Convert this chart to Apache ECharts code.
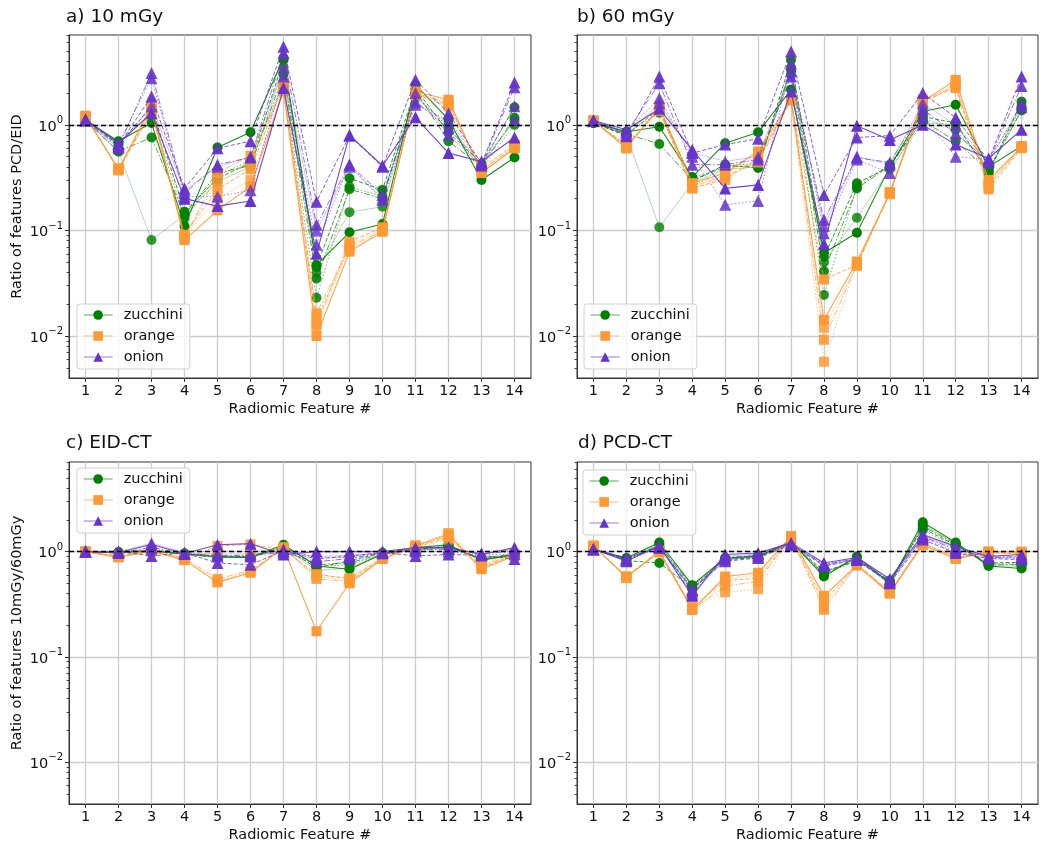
<!DOCTYPE html>
<html><head><meta charset="utf-8">
<script src="https://cdn.jsdelivr.net/npm/echarts@6/dist/echarts.min.js"></script>
<style>html,body{margin:0;padding:0;background:#fff}#c{width:1050px;height:845px}</style>
</head><body><div id="c"></div>
<script>
// ---------------- data ----------------
const features = [1,2,3,4,5,6,7,8,9,10,11,12,13,14];
const vegetables = ['zucchini','orange','onion'];
const panelTitles = ['a) 10 mGy','b) 60 mGy','c) EID-CT','d) PCD-CT'];
const yAxisNames = ['Ratio of features PCD/EID','','Ratio of features 10mGy/60mGy',''];
const xAxisName = 'Radiomic Feature #';
const yMajorTicks = [0.01, 0.1, 1];
const yMinorTicks = [0.005,0.006,0.007,0.008,0.009,0.02,0.03,0.04,0.05,0.06,0.07,0.08,0.09,0.2,0.3,0.4,0.5,0.6,0.7,0.8,0.9,2,3,4,5,6,7];
const yRange = [0.004, 7.1];
const referenceLevel = 1;

// panel a) 10 mGy  (5 curves per vegetable, features 1..14)
const A_ZUCCHINI = [
  [1.10,0.70,1.04,0.11,0.61,0.85,4.30,0.047,0.096,0.115,2.39,1.13,0.30,0.49],
  [1.12,0.65,1.50,0.15,0.31,0.44,4.10,0.045,0.312,0.242,2.20,0.85,0.43,1.47],
  [1.10,0.56,0.76,0.14,0.35,0.41,3.00,0.035,0.246,0.200,2.10,0.70,0.40,1.17],
  [1.08,0.68,1.30,0.13,0.33,0.46,2.50,0.023,0.260,0.210,1.90,0.95,0.38,1.00],
  [1.10,0.56,0.081,0.14,0.29,0.40,3.50,0.040,0.149,0.168,1.80,1.00,0.42,1.10]
];
const A_ORANGE = [
  [1.22,0.38,1.51,0.081,0.155,0.26,2.07,0.010,0.063,0.097,2.07,1.73,0.35,0.60],
  [1.20,0.37,1.34,0.091,0.245,0.38,2.40,0.013,0.078,0.107,1.93,1.55,0.39,0.65],
  [1.18,0.38,1.40,0.085,0.350,0.51,2.20,0.0164,0.070,0.100,2.00,1.60,0.37,0.62],
  [1.20,0.39,1.45,0.088,0.300,0.45,2.30,0.015,0.065,0.100,1.95,1.65,0.36,0.63],
  [1.20,0.38,1.30,0.090,0.200,0.30,2.10,0.012,0.072,0.105,1.90,1.50,0.38,0.60]
];
const A_ONION = [
  [1.13,0.67,1.29,0.20,0.17,0.19,2.23,0.060,0.80,0.41,1.18,0.54,0.45,0.76],
  [1.12,0.64,1.86,0.25,0.60,0.70,5.50,0.187,0.79,0.40,2.67,1.29,0.43,2.52],
  [1.10,0.62,3.10,0.225,0.42,0.49,4.80,0.113,0.42,0.217,1.66,0.93,0.42,2.27],
  [1.12,0.66,2.77,0.21,0.21,0.24,2.87,0.073,0.42,0.195,1.55,1.10,0.44,1.11],
  [1.10,0.60,1.50,0.24,0.40,0.50,3.50,0.100,0.40,0.200,2.00,0.80,0.41,1.50]
];
// panel b) 60 mGy
const B_ZUCCHINI = [
  [1.05,0.86,0.96,0.32,0.67,0.85,2.15,0.061,0.095,0.40,1.34,1.55,0.40,0.63],
  [1.04,0.79,1.44,0.29,0.42,0.39,4.13,0.056,0.28,0.40,1.20,1.04,0.35,1.66],
  [1.06,0.82,0.66,0.30,0.40,0.41,3.32,0.041,0.25,0.41,1.10,0.70,0.37,1.37],
  [1.05,0.84,1.30,0.31,0.41,0.43,3.00,0.0245,0.26,0.42,1.15,0.90,0.38,1.50],
  [1.04,0.80,0.107,0.28,0.38,0.40,3.50,0.050,0.132,0.38,1.05,1.00,0.36,1.40]
];
const B_ORANGE = [
  [1.10,0.60,1.49,0.28,0.35,0.56,1.73,0.0142,0.0507,0.225,1.66,2.67,0.30,0.62],
  [1.08,0.65,1.36,0.25,0.31,0.48,1.75,0.0344,0.047,0.230,1.70,2.23,0.245,0.60],
  [1.10,0.62,1.42,0.26,0.33,0.44,1.72,0.0092,0.048,0.220,1.60,2.40,0.27,0.61],
  [1.09,0.60,1.45,0.27,0.34,0.52,1.74,0.0057,0.049,0.225,1.65,2.50,0.26,0.63],
  [1.10,0.63,1.40,0.25,0.30,0.46,1.70,0.012,0.046,0.230,1.75,2.30,0.28,0.62]
];
const B_ONION = [
  [1.10,0.90,1.42,0.58,0.25,0.27,2.07,0.0745,0.98,0.72,1.00,0.65,0.48,0.90],
  [1.08,0.78,2.87,0.54,0.65,0.74,4.96,0.217,0.76,0.79,2.00,1.17,0.46,2.87],
  [1.10,0.84,2.48,0.42,0.42,0.47,2.87,0.126,0.49,0.44,1.40,0.83,0.45,2.34],
  [1.09,0.86,1.79,0.50,0.175,0.19,3.80,0.094,0.47,0.35,1.20,0.50,0.47,1.47],
  [1.10,0.80,1.60,0.55,0.45,0.50,3.20,0.110,0.50,0.42,1.60,1.00,0.44,1.60]
];
// panel c) EID-CT
const C_ZUCCHINI = [
  [1.00,0.98,1.02,0.95,0.89,0.88,1.16,0.73,0.68,0.95,1.09,1.16,0.83,0.93],
  [1.00,0.97,1.00,0.96,0.90,0.89,1.10,0.70,0.82,0.97,1.05,1.12,0.85,0.94],
  [1.00,0.99,1.03,0.94,0.88,0.90,1.12,0.75,0.78,0.96,1.07,1.10,0.87,0.95],
  [1.00,0.98,1.01,0.95,0.91,0.87,1.08,0.72,0.75,0.94,1.06,1.14,0.84,0.92],
  [1.00,0.97,1.00,0.96,0.90,0.88,1.10,0.66,0.70,0.96,1.04,1.08,0.86,0.93]
];
const C_ORANGE = [
  [1.00,0.88,1.02,0.83,0.51,0.63,1.09,0.175,0.50,0.85,1.13,1.46,0.68,0.91],
  [1.00,0.90,1.00,0.85,1.13,1.17,1.05,0.61,0.55,0.87,1.10,1.36,0.70,0.93],
  [1.00,0.92,1.04,0.87,0.55,0.66,1.10,0.55,0.52,0.86,1.12,1.40,0.72,0.95],
  [1.00,0.89,1.00,0.84,1.00,1.00,1.07,0.58,0.53,0.88,1.15,1.50,0.75,0.90],
  [1.00,0.91,1.01,0.86,0.52,0.65,1.06,0.60,0.56,0.90,1.08,1.30,0.78,0.92]
];
const C_ONION = [
  [1.00,0.98,1.17,0.96,1.16,1.19,0.94,1.00,1.00,1.00,1.09,1.09,0.94,1.09],
  [1.00,1.00,0.91,0.97,0.78,0.75,1.02,0.85,0.91,0.98,0.91,0.94,0.92,0.85],
  [1.00,0.97,1.10,0.95,0.92,0.92,0.98,0.80,0.86,0.97,1.05,1.05,0.96,1.00],
  [1.00,0.99,1.05,0.96,0.90,0.90,1.05,0.88,0.88,0.99,1.00,1.00,0.93,0.95],
  [1.00,1.00,1.20,0.98,0.95,0.95,1.00,0.90,0.92,0.96,1.02,1.10,0.95,1.05]
];
// panel d) PCD-CT
const D_ZUCCHINI = [
  [1.05,0.87,1.22,0.48,0.87,0.90,1.25,0.58,0.90,0.50,1.90,1.22,0.73,0.69],
  [1.06,0.82,0.78,0.45,0.84,0.88,1.22,0.65,0.81,0.53,1.67,1.15,0.78,0.79],
  [1.04,0.85,1.15,0.47,0.86,0.92,1.20,0.62,0.85,0.51,1.75,1.18,0.75,0.75],
  [1.05,0.84,1.10,0.46,0.85,0.90,1.24,0.60,0.83,0.52,1.60,1.12,0.76,0.77],
  [1.06,0.86,1.18,0.44,0.83,0.89,1.21,0.63,0.87,0.48,1.80,1.20,0.74,0.72]
];
const D_ORANGE = [
  [1.14,0.57,1.00,0.28,0.58,0.63,1.40,0.38,0.74,0.40,1.16,0.85,1.00,1.00],
  [1.12,0.58,1.02,0.29,0.53,0.56,1.35,0.33,0.76,0.41,1.20,0.88,0.98,0.95],
  [1.13,0.57,0.98,0.28,0.47,0.52,1.38,0.28,0.75,0.42,1.18,0.90,0.99,0.97],
  [1.12,0.56,1.00,0.30,0.41,0.44,1.36,0.30,0.74,0.40,1.22,0.86,1.00,0.98],
  [1.14,0.58,1.01,0.29,0.55,0.60,1.40,0.36,0.77,0.41,1.15,0.87,0.97,0.96]
];
const D_ONION = [
  [1.06,0.81,1.14,0.38,0.94,0.97,1.21,0.78,0.88,0.55,1.45,1.12,0.90,0.94],
  [1.05,0.87,1.10,0.44,0.81,0.87,1.16,0.73,0.83,0.50,1.30,0.97,0.86,0.84],
  [1.06,0.84,1.12,0.42,0.88,0.92,1.18,0.75,0.86,0.53,1.38,1.05,0.88,0.90],
  [1.04,0.83,1.08,0.40,0.85,0.90,1.15,0.76,0.85,0.52,1.35,1.00,0.87,0.88],
  [1.05,0.85,1.12,0.43,0.90,0.95,1.20,0.74,0.84,0.51,1.40,1.08,0.89,0.86]
];

const panels = [
  [A_ZUCCHINI, A_ORANGE, A_ONION],
  [B_ZUCCHINI, B_ORANGE, B_ONION],
  [C_ZUCCHINI, C_ORANGE, C_ONION],
  [D_ZUCCHINI, D_ORANGE, D_ONION]
];

// ---------------- styles / layout ----------------
const FONT = 'DejaVu Sans';
const colors = ['#008000', '#ff9933', '#6633cc'];
const symbols = ['circle', 'rect', 'triangle'];
const symbolSizes = [10, 10, 12];
const dashTypes = ['solid', [4, 2], [6, 2, 1.5, 2], [1.5, 2], 'solid'];
const lineOpacity = [0.9, 0.8, 0.7, 0.6, 0.3];
const lineWidths = [1.1, 1, 1, 1, 1];
const markerOpacity = [1, 0.95, 0.9, 0.85, 0.8];
const grids = [
  {left: 69, top: 35, width: 462, height: 343},
  {left: 577, top: 35, width: 461, height: 343},
  {left: 69, top: 462, width: 462, height: 342},
  {left: 577, top: 462, width: 461, height: 342}
];
const legendPos = [
  {left: 77, top: 304}, {left: 584, top: 304}, {left: 77, top: 468}, {left: 583, top: 470}
];
const titlePos = [
  {left: 66, top: 8}, {left: 577, top: 8}, {left: 66, top: 434}, {left: 578, top: 434}
];

function sup(exp) {
  return String(exp).replace('-', '\u2212');
}
function yLabel(v) {
  const e = Math.log10(v);
  if (Math.abs(e - Math.round(e)) > 1e-6) return '';
  return '{b|10}{s|' + sup(Math.round(e)) + '}';
}

const option = {
  animation: false,
  backgroundColor: '#ffffff',
  textStyle: {fontFamily: FONT},
  title: panelTitles.map((t, i) => ({
    text: t, left: titlePos[i].left, top: titlePos[i].top, padding: 0,
    textStyle: {fontFamily: FONT, fontSize: 18.5, fontWeight: 'normal', color: '#111'}
  })),
  grid: grids.map(g => Object.assign({show: true, borderColor: '#333', borderWidth: 1, backgroundColor: 'transparent'}, g)),
  xAxis: grids.map((g, i) => ({
    type: 'value', gridIndex: i, min: 0.5, max: 14.5, splitNumber: 14,
    name: xAxisName, nameLocation: 'middle', nameGap: 24,
    nameTextStyle: {fontFamily: FONT, fontSize: 14.5, color: '#111'},
    axisLine: {show: true, onZero: false, lineStyle: {color: '#333', width: 1}},
    axisTick: {show: true, length: 4, customValues: features, lineStyle: {color: '#333'}},
    axisLabel: {customValues: features, margin: 6, fontFamily: FONT, fontSize: 14.5, color: '#111'},
    splitLine: {show: true, lineStyle: {color: '#cccccc', width: 1.3}}
  })),
  yAxis: [].concat(
    grids.map((g, i) => ({
      type: 'log', logBase: 10, gridIndex: i, min: yRange[0], max: yRange[1],
      name: yAxisNames[i], nameLocation: 'middle', nameGap: 44,
      nameTextStyle: {fontFamily: FONT, fontSize: 14.5, color: '#111'},
      axisLine: {show: true, lineStyle: {color: '#333', width: 1}},
      axisTick: {show: true, length: 4, customValues: yMajorTicks, lineStyle: {color: '#333'}},
      axisLabel: {
        customValues: yMajorTicks, margin: 6, formatter: yLabel,
        rich: {
          b: {fontFamily: FONT, fontSize: 14.5, color: '#111', lineHeight: 19, verticalAlign: 'bottom'},
          s: {fontFamily: FONT, fontSize: 10, color: '#111', lineHeight: 19, verticalAlign: 'top'}
        }
      },
      splitLine: {show: true, lineStyle: {color: '#cccccc', width: 1.3}}
    })),
    grids.map((g, i) => ({
      type: 'log', logBase: 10, gridIndex: i, min: yRange[0], max: yRange[1], position: 'left',
      axisLine: {show: false},
      axisTick: {show: true, length: 2.5, customValues: yMinorTicks, lineStyle: {color: '#333', width: 0.9}},
      axisLabel: {show: false},
      splitLine: {show: false}
    }))
  ),
  legend: panelTitles.map((t, i) => ({
    orient: 'vertical', left: legendPos[i].left, top: legendPos[i].top,
    data: vegetables.map(v => ({name: v})),
    itemWidth: 29, itemHeight: 12, itemGap: 5,
    padding: [3, 7, 4, 6],
    backgroundColor: 'rgba(255,255,255,0.8)', borderColor: '#d0d0d0', borderWidth: 1, borderRadius: 3,
    lineStyle: {opacity: 0.5, width: 1.3, type: 'solid'},
    itemStyle: {opacity: 1},
    textStyle: {fontFamily: FONT, fontSize: 14.5, color: '#111', lineHeight: 16, padding: [0, 0, 0, 6]},
    selectedMode: false
  })),
  series: []
};

panels.forEach((vegRows, p) => {
  vegRows.forEach((rows, v) => {
    rows.forEach((vals, li) => {
      option.series.push({
        type: 'line', name: vegetables[v], xAxisIndex: p, yAxisIndex: p,
        data: features.map((f, k) => [f, vals[k]]),
        symbol: symbols[v], symbolSize: symbolSizes[v], showAllSymbol: true,
        lineStyle: {color: colors[v], width: lineWidths[li], type: dashTypes[li], opacity: lineOpacity[li]},
        itemStyle: {color: colors[v], opacity: markerOpacity[li], borderWidth: 0},
        emphasis: {disabled: true}, silent: true, z: 2 + v, zlevel: 0
      });
    });
  });
  option.series.push({
    type: 'line', name: 'ref', xAxisIndex: p, yAxisIndex: p, data: [],
    markLine: {
      silent: true, symbol: 'none', animation: false,
      label: {show: false},
      lineStyle: {color: '#000', type: [5, 3], width: 1.4, opacity: 1},
      data: [{yAxis: referenceLevel}]
    },
    z: 10
  });
});

const chart = echarts.init(document.getElementById('c'), null, {renderer: 'canvas'});
chart.setOption(option);
</script>
</body></html>
